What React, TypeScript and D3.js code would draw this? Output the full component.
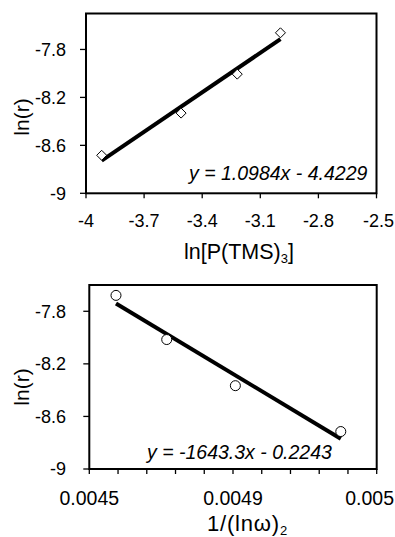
import React from "react";
import * as d3 from "d3";

// ---- Top panel data ----
const topX = [-3.919, -3.509, -3.219, -2.996];
const topY = [-8.683, -8.331, -8.006, -7.661];
const topFit = [1.0984, -4.4229]; // slope, intercept
const topXTicks = [-4, -3.7, -3.4, -3.1, -2.8, -2.5];
const topXTickLabels = ["-4", "-3.7", "-3.4", "-3.1", "-2.8", "-2.5"];
const topEquation = "y = 1.0984x - 4.4229";

// ---- Bottom panel data ----
const botX = [0.0045743, 0.0047155, 0.0049066, 0.0052];
const botY = [-7.679, -8.015, -8.366, -8.715];
const botFit = [-1643.3, -0.2243];
const botXTicks = [0.0045, 0.0049, 0.0053];
const botXTickLabels = ["0.0045", "0.0049", "0.005"];
const botXMinorTicks = [0.0045, 0.00458, 0.00466, 0.00474, 0.00482, 0.0049, 0.00498, 0.00506, 0.00514, 0.00522, 0.0053];
const botEquation = "y = -1643.3x - 0.2243";

// ---- Shared y ticks ----
const yTicks = [-9, -8.6, -8.2, -7.8];
const yTickLabels = ["-9", "-8.6", "-8.2", "-7.8"];

const FONT = "'Liberation Sans', Arial, sans-serif";
const W = 395;

type PanelProps = {
  xs: number[];
  ys: number[];
  fit: number[];
  xDomain: [number, number];
  yDomain: [number, number];
  left: number;
  right: number;
  top: number;
  bottom: number;
  xTicks: number[];
  xTickLabels: string[];
  minorTicks?: number[];
  xLabelFont: number;
  xLabelBaseline: number;
  equation: string;
  eqX: number;
  eqY: number;
  marker: "diamond" | "circle";
  yTitleY: number;
  xTitle: React.ReactNode;
};

function Panel(p: PanelProps) {
  const x = d3.scaleLinear().domain(p.xDomain).range([p.left, p.right]);
  const y = d3.scaleLinear().domain(p.yDomain).range([p.bottom, p.top]);
  const x0 = d3.min(p.xs) as number;
  const x1 = d3.max(p.xs) as number;
  const line = d3
    .line<number>()
    .x((d) => x(d))
    .y((d) => y(p.fit[0] * d + p.fit[1]));
  const tickXs = p.minorTicks ?? p.xTicks;
  return (
    <g>
      {yTicks.map((t, i) => (
        <g key={"yt" + i}>
          <line x1={p.left - 6} x2={p.left} y1={y(t)} y2={y(t)} stroke="#000" strokeWidth={1.3} />
          <text x={66} y={y(t)} dy="0.36em" textAnchor="end" fontSize={18} fontFamily={FONT}>
            {yTickLabels[i]}
          </text>
        </g>
      ))}
      {tickXs.map((t, i) => (
        <line key={"xt" + i} x1={x(t)} x2={x(t)} y1={p.bottom} y2={p.bottom + 5} stroke="#000" strokeWidth={1.3} />
      ))}
      {p.xTicks.map((t, i) => {
        const cx = x(t);
        const halfW = p.xTickLabels[i].length * p.xLabelFont * 0.26;
        const clamp = cx + halfW > W - 1;
        return (
          <text
            key={"xl" + i}
            x={clamp ? W - 1 : cx}
            y={p.xLabelBaseline}
            textAnchor={clamp ? "end" : "middle"}
            fontSize={p.xLabelFont}
            fontFamily={FONT}
          >
            {p.xTickLabels[i]}
          </text>
        );
      })}
      <rect
        x={p.left}
        y={p.top}
        width={p.right - p.left}
        height={p.bottom - p.top}
        fill="none"
        stroke="#000"
        strokeWidth={2}
      />
      <path d={line([x0, x1]) || ""} stroke="#000" strokeWidth={4} fill="none" />
      {p.xs.map((xv, i) =>
        p.marker === "diamond" ? (
          <path
            key={"m" + i}
            d={`M${x(xv)},${y(p.ys[i]) - 5}L${x(xv) + 5},${y(p.ys[i])}L${x(xv)},${y(p.ys[i]) + 5}L${x(xv) - 5},${y(p.ys[i])}Z`}
            fill="#fff"
            stroke="#000"
            strokeWidth={1}
          />
        ) : (
          <circle key={"m" + i} cx={x(xv)} cy={y(p.ys[i])} r={5} fill="#fff" stroke="#000" strokeWidth={1} />
        )
      )}
      <text x={p.eqX} y={p.eqY} fontSize={19.5} fontStyle="italic" fontFamily={FONT}>
        {p.equation}
      </text>
      <text
        transform={`translate(29,${p.yTitleY}) rotate(-90)`}
        textAnchor="middle"
        fontSize={21}
        fontFamily={FONT}
      >
        ln(r)
      </text>
      {p.xTitle}
    </g>
  );
}

export default function App() {
  return (
    <svg
      width={395}
      height={537}
      style={{ position: "absolute", left: 0, top: 0, background: "#fff" }}
    >
      <rect width={395} height={537} fill="#fff" />
      <Panel
        xs={topX}
        ys={topY}
        fit={topFit}
        xDomain={[-4, -2.5]}
        yDomain={[-9, -7.5]}
        left={86}
        right={376.5}
        top={13.5}
        bottom={193.3}
        xTicks={topXTicks}
        xTickLabels={topXTickLabels}
        xLabelFont={18}
        xLabelBaseline={227}
        equation={topEquation}
        eqX={189}
        eqY={180}
        marker="diamond"
        yTitleY={117}
        xTitle={
          <text x={184} y={258.5} fontSize={21.5} fontFamily={FONT}>
            ln[P(TMS)
            <tspan fontSize={13} dy={4}>3</tspan>
            <tspan dy={-4}>]</tspan>
          </text>
        }
      />
      <Panel
        xs={botX}
        ys={botY}
        fit={botFit}
        xDomain={[0.0045, 0.0053]}
        yDomain={[-9, -7.6]}
        left={89.3}
        right={376.7}
        top={285}
        bottom={469}
        xTicks={botXTicks}
        xTickLabels={botXTickLabels}
        minorTicks={botXMinorTicks}
        xLabelFont={19.5}
        xLabelBaseline={504.5}
        equation={botEquation}
        eqX={147}
        eqY={459}
        marker="circle"
        yTitleY={387}
        xTitle={
          <text x={207} y={531} fontSize={22} letterSpacing={0.8} fontFamily={FONT}>
            1/(lnω)
            <tspan fontSize={13} dy={4}>2</tspan>
          </text>
        }
      />
    </svg>
  );
}
